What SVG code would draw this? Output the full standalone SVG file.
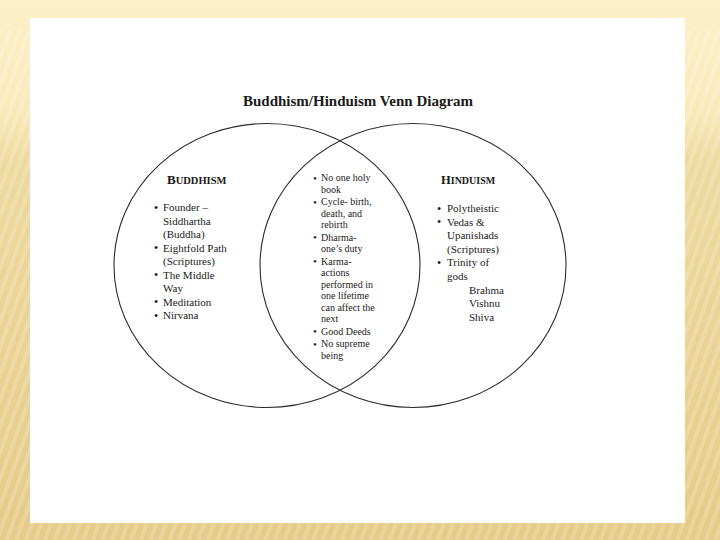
<svg xmlns="http://www.w3.org/2000/svg" width="720" height="540" viewBox="0 0 720 540">
  <defs>
    <linearGradient id="bg" x1="0" y1="0" x2="0" y2="1">
      <stop offset="0" stop-color="#FDF0C8"/>
      <stop offset="0.2" stop-color="#FAE9BA"/>
      <stop offset="0.3" stop-color="#EED99E"/>
      <stop offset="1" stop-color="#E4CB87"/>
    </linearGradient>
    <pattern id="stripes" width="9" height="9" patternUnits="userSpaceOnUse" patternTransform="rotate(20)">
      <rect width="4" height="9" fill="#FFFFFF" opacity="0.18"/>
    </pattern>
    <style>
      .ring { fill: none; stroke: #2b2b2b; stroke-width: 1.1; }
      .t { font-family: "Liberation Serif", "Times New Roman", serif; fill: #1a1a1a; }
      .title { font-size: 15px; font-weight: bold; }
      .head { font-weight: bold; }
      .side { font-size: 11px; }
      .mid { font-size: 10px; }
      .b { font-size: 12px; }
      .bm { font-size: 11px; }
    </style>
  </defs>

  <rect x="0" y="0" width="720" height="540" fill="url(#bg)"/>
  <rect x="0" y="30" width="720" height="510" fill="url(#stripes)"/>
  <rect x="30" y="18" width="655" height="505" fill="#FFFFFF"/>

  <text class="t title" x="358" y="106" text-anchor="middle">Buddhism/Hinduism Venn Diagram</text>

  <g id="buddhism">
    <ellipse class="ring" cx="267" cy="265.5" rx="153" ry="142"/>
    <text class="t head" x="167" y="184"><tspan font-size="13">B</tspan><tspan font-size="10.5">UDDHISM</tspan></text>
    <g class="t side">
      <text class="b" x="154" y="211.5">•</text><text x="163" y="211">Founder –</text>
      <text x="163" y="224.5">Siddhartha</text>
      <text x="163" y="238">(Buddha)</text>
      <text class="b" x="154" y="252">•</text><text x="163" y="251.5">Eightfold Path</text>
      <text x="163" y="265">(Scriptures)</text>
      <text class="b" x="154" y="279">•</text><text x="163" y="278.5">The Middle</text>
      <text x="163" y="292">Way</text>
      <text class="b" x="154" y="306">•</text><text x="163" y="305.5">Meditation</text>
      <text class="b" x="154" y="319.5">•</text><text x="163" y="319">Nirvana</text>
    </g>
  </g>

  <g id="hinduism">
    <ellipse class="ring" cx="413" cy="265.5" rx="153" ry="142"/>
    <text class="t head" x="441" y="184"><tspan font-size="12.5">H</tspan><tspan font-size="10">INDUISM</tspan></text>
    <g class="t side">
      <text class="b" x="437" y="212.5">•</text><text x="447" y="212">Polytheistic</text>
      <text class="b" x="437" y="226.1">•</text><text x="447" y="225.6">Vedas &amp;</text>
      <text x="447" y="239.2">Upanishads</text>
      <text x="447" y="252.8">(Scriptures)</text>
      <text class="b" x="437" y="266.9">•</text><text x="447" y="266.4">Trinity of</text>
      <text x="447" y="280">gods</text>
      <text x="469" y="293.6">Brahma</text>
      <text x="469" y="307.2">Vishnu</text>
      <text x="469" y="320.8">Shiva</text>
    </g>
  </g>

  <g id="overlap" class="t mid">
    <text class="bm" x="313" y="181.5">•</text><text x="321" y="181">No one holy</text>
    <text x="321" y="192.5">book</text>
    <text class="bm" x="313" y="205.5">•</text><text x="321" y="205">Cycle- birth,</text>
    <text x="321" y="216.5">death, and</text>
    <text x="321" y="228">rebirth</text>
    <text class="bm" x="313" y="241">•</text><text x="321" y="240.5">Dharma-</text>
    <text x="321" y="252">one’s duty</text>
    <text class="bm" x="313" y="265">•</text><text x="321" y="264.5">Karma-</text>
    <text x="321" y="276">actions</text>
    <text x="321" y="287.5">performed in</text>
    <text x="321" y="299">one lifetime</text>
    <text x="321" y="310.5">can affect the</text>
    <text x="321" y="322">next</text>
    <text class="bm" x="313" y="335">•</text><text x="321" y="334.5">Good Deeds</text>
    <text class="bm" x="313" y="347.5">•</text><text x="321" y="347">No supreme</text>
    <text x="321" y="358.5">being</text>
  </g>

  <g id="connectors"/>
</svg>
